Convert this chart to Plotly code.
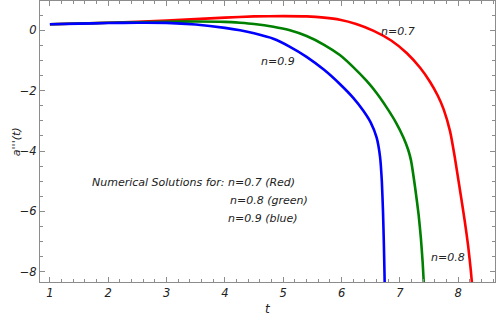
import plotly.graph_objects as go

# values
t_red = [1, 2, 3, 4, 4.5, 5, 5.4, 5.7, 5.97, 6.25, 6.55, 6.85, 7.12, 7.35, 7.52, 7.65,
         7.75, 7.86, 7.94, 8.03, 8.11, 8.17, 8.215, 8.25]
v_red = [0.20, 0.25, 0.32, 0.42, 0.46, 0.47, 0.46, 0.42, 0.35, 0.21, -0.02, -0.34, -0.76,
         -1.25, -1.72, -2.17, -2.62, -3.35, -4.2, -5.3, -6.3, -7.15, -7.95, -8.7]

t_green = [1, 2, 3, 3.5, 4, 4.26, 4.5, 4.83, 5.1, 5.4, 5.7, 5.97, 6.2, 6.43, 6.6, 6.78,
           6.93, 7.06, 7.14, 7.19, 7.26, 7.32, 7.36, 7.39, 7.41, 7.425]
v_green = [0.20, 0.25, 0.28, 0.29, 0.28, 0.25, 0.21, 0.12, 0.01, -0.19, -0.48, -0.82, -1.22,
           -1.68, -2.08, -2.58, -3.05, -3.55, -3.95, -4.31, -5.2, -6.1, -6.9, -7.7, -8.4, -9.0]

t_blue = [1, 1.5, 2, 2.5, 3, 3.5, 4, 4.26, 4.5, 4.83, 5.1, 5.4, 5.7, 5.97, 6.2, 6.37,
          6.5, 6.6, 6.66, 6.69, 6.71, 6.725, 6.735, 6.745]
v_blue = [0.20, 0.22, 0.24, 0.25, 0.245, 0.19, 0.08, 0.0, -0.10, -0.28, -0.53, -0.88,
          -1.31, -1.78, -2.24, -2.66, -3.06, -3.55, -4.2, -5.0, -6.0, -7.1, -8.0, -9.0]

x_ticks = [1, 2, 3, 4, 5, 6, 7, 8]
y_ticks = [0, -2, -4, -6, -8]

FONT = "DejaVu Sans"
FRAME = "#8c8c8c"
INK = "#222"

fig = go.Figure()
for t, v, col in [(t_red, v_red, "red"), (t_green, v_green, "green"), (t_blue, v_blue, "blue")]:
    fig.add_trace(go.Scatter(x=t, y=v, mode="lines",
                             line=dict(color=col, width=2.6, shape="spline", smoothing=0.5),
                             showlegend=False, hoverinfo="skip"))

italic = dict(family=FONT, size=11, color=INK, style="italic")

# curve labels
fig.add_annotation(x=6.97, y=-0.05, text="n=0.7", showarrow=False, font=italic)
fig.add_annotation(x=4.91, y=-1.05, text="n=0.9", showarrow=False, font=italic)
fig.add_annotation(x=7.82, y=-7.54, text="n=0.8", showarrow=False, font=italic)

# description text
fig.add_annotation(x=1.686, y=-5.03, text="Numerical Solutions for: n=0.7 (Red)", showarrow=False,
                   xanchor="left", font=italic)
fig.add_annotation(x=4.05, y=-5.63, text="n=0.8 (green)", showarrow=False, xanchor="left", font=italic)
fig.add_annotation(x=4.01, y=-6.23, text="n=0.9 (blue)", showarrow=False, xanchor="left", font=italic)

# axis titles placed by hand so the margins stay fixed
fig.add_annotation(xref="paper", yref="paper", x=0.5, y=-0.128, text="t", showarrow=False,
                   font=dict(family=FONT, size=12, color=INK, style="italic"))
fig.add_annotation(xref="paper", yref="paper", x=-0.07, y=0.5, text="a'''(t)", showarrow=False,
                   textangle=-90, font=dict(family=FONT, size=11, color=INK, style="italic"))

axis_common = dict(showline=True, linecolor=FRAME, linewidth=1, mirror="ticks", ticks="inside",
                   ticklen=5, tickcolor=FRAME, showgrid=False, zeroline=False, automargin=False,
                   tickfont=dict(family=FONT, size=11.5, color=INK, style="italic"))

fig.update_xaxes(range=[0.83, 8.63], tickvals=x_ticks,
                 minor=dict(dtick=0.2, ticks="inside", ticklen=3, tickcolor=FRAME),
                 **axis_common)
fig.update_yaxes(range=[-8.34, 0.97], tickvals=y_ticks,
                 minor=dict(dtick=0.5, ticks="inside", ticklen=3, tickcolor=FRAME),
                 **axis_common)

fig.update_layout(width=497, height=324, margin=dict(l=40, r=2, t=1, b=42),
                  plot_bgcolor="white", paper_bgcolor="white")

# drop the default page margin so the figure sits at the window's corner
fig.write_html("out.html", config={"displayModeBar": False},
               post_script="document.body.style.margin='0';")
